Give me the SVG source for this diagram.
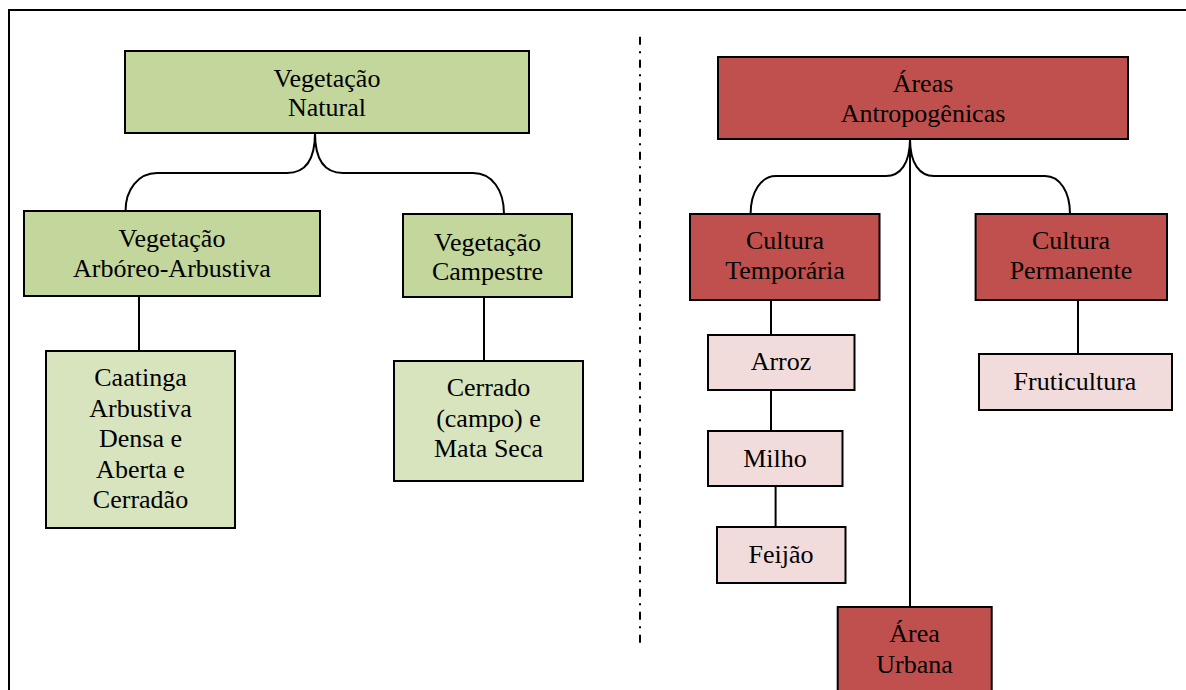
<svg xmlns="http://www.w3.org/2000/svg" width="1186" height="690" viewBox="0 0 1186 690">
<style>
.box{stroke:#000;stroke-width:2}
.g1{fill:#C3D69B}.g2{fill:#D7E4BD}.r1{fill:#C0504D}.r2{fill:#F2DCDB}
text{font-family:"Liberation Serif","Times New Roman",serif;font-size:26px;fill:#000;text-anchor:middle}
.c{fill:none;stroke:#000;stroke-width:2}
</style>
<rect x="0" y="0" width="1186" height="690" fill="#fff"/>
<path d="M9,700 L9,10 L1200,10" fill="none" stroke="#000" stroke-width="2"/>
<line x1="640" y1="36.7" x2="640" y2="647" stroke="#000" stroke-width="2" stroke-dasharray="8 6.5 2 6.5"/>
<g id="connectors" class="c">
<path d="M315,133 C315,160 305,173 287,173 L157,173 C138,173 125.5,190 125.5,211"/>
<path d="M315,133 C315,160 325,173 343,173 L473,173 C492,173 504,190 504,214"/>
<line x1="139" y1="296" x2="139" y2="351"/>
<line x1="484" y1="297" x2="484" y2="361"/>
<path d="M910,139 C910,164 900,176 886,176 L776,176 C761,176 750.6,192 750.6,214"/>
<path d="M910,139 C910,164 920,176 934,176 L1045,176 C1060,176 1070,192 1070,214"/>
<line x1="910" y1="139" x2="910" y2="607"/>
<line x1="771" y1="300" x2="771" y2="335"/>
<line x1="771" y1="390" x2="771" y2="431"/>
<line x1="775.6" y1="486" x2="775.6" y2="527"/>
<line x1="1078" y1="300" x2="1078" y2="354"/>
</g>
<g id="vegetacao-natural"><rect class="box g1" x="125" y="51" width="404" height="82"/><text x="327" y="87">Vegetação</text><text x="327" y="116">Natural</text></g>
<g id="arboreo-arbustiva"><rect class="box g1" x="24" y="211" width="296" height="85"/><text x="172" y="247">Vegetação</text><text x="172" y="277">Arbóreo-Arbustiva</text></g>
<g id="campestre"><rect class="box g1" x="403" y="214" width="169" height="83"/><text x="487.5" y="251">Vegetação</text><text x="487.5" y="280">Campestre</text></g>
<g id="caatinga"><rect class="box g2" x="46" y="351" width="189" height="177"/><text x="140.5" y="386">Caatinga</text><text x="140.5" y="416.7">Arbustiva</text><text x="140.5" y="447">Densa e</text><text x="140.5" y="477.7">Aberta e</text><text x="140.5" y="508">Cerradão</text></g>
<g id="cerrado"><rect class="box g2" x="394" y="361" width="189" height="120"/><text x="488.5" y="396">Cerrado</text><text x="488.5" y="426.7">(campo) e</text><text x="488.5" y="456.7">Mata Seca</text></g>
<g id="areas-antropogenicas"><rect class="box r1" x="718" y="57" width="410" height="82"/><text x="923" y="91.7">Áreas</text><text x="923" y="121.7">Antropogênicas</text></g>
<g id="cultura-temporaria"><rect class="box r1" x="690" y="214" width="189.5" height="86"/><text x="785" y="249">Cultura</text><text x="785" y="279">Temporária</text></g>
<g id="cultura-permanente"><rect class="box r1" x="975.6" y="214" width="191.4" height="86"/><text x="1071" y="249">Cultura</text><text x="1071" y="279">Permanente</text></g>
<g id="arroz"><rect class="box r2" x="708" y="335" width="146.5" height="55"/><text x="781" y="370">Arroz</text></g>
<g id="milho"><rect class="box r2" x="708" y="431" width="134.5" height="55"/><text x="775" y="466.7">Milho</text></g>
<g id="feijao"><rect class="box r2" x="717" y="527" width="128.5" height="56"/><text x="781" y="563">Feijão</text></g>
<g id="fruticultura"><rect class="box r2" x="979" y="354" width="193" height="56"/><text x="1075" y="390">Fruticultura</text></g>
<g id="area-urbana"><rect class="box r1" x="837.7" y="607" width="154" height="100"/><text x="914.6" y="641.7">Área</text><text x="914.6" y="673">Urbana</text></g>
</svg>
